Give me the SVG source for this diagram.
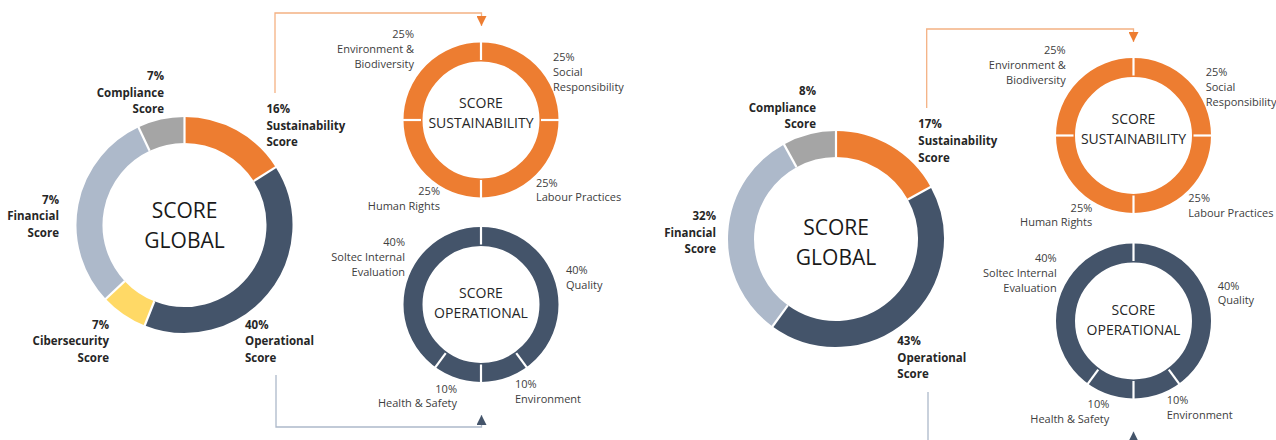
<svg xmlns="http://www.w3.org/2000/svg" width="1276" height="440" viewBox="0 0 1276 440">
<defs>
<style>
.bg{fill:#ffffff}
.seg{fill:none}
.big{stroke-width:26}
.small{stroke-width:19}
.or{stroke:#ED7D31}
.dk{stroke:#44546A}
.lb{stroke:#ADB9CA}
.gy{stroke:#A5A5A5}
.ye{stroke:#FFD966}
.sep{stroke:#ffffff;stroke-width:2.2}
.lbl{font-family:"Open Sans","Liberation Sans",sans-serif;font-weight:700;font-size:11.5px;fill:#262626}
.sub{font-family:"Open Sans","Liberation Sans",sans-serif;font-size:11px;fill:#404040}
.gt{font-family:"Open Sans","Liberation Sans",sans-serif;font-size:21px;fill:#1a1a1a;text-anchor:middle}
.st{font-family:"Open Sans","Liberation Sans",sans-serif;font-size:14px;fill:#262626;text-anchor:middle}
.r{text-anchor:end}
.conn-o{fill:none;stroke:#F4B183;stroke-width:1.3}
.conn-d{fill:none;stroke:#ADB9CA;stroke-width:1.3}
</style>
<marker id="arrO" markerUnits="userSpaceOnUse" markerWidth="10" markerHeight="10" viewBox="0 0 8 8" refX="8" refY="4" orient="auto">
<path d="M0,0 L8,4 L0,8 Z" fill="#ED7D31"/>
</marker>
<marker id="arrD" markerUnits="userSpaceOnUse" markerWidth="10" markerHeight="10" viewBox="0 0 8 8" refX="8" refY="4" orient="auto">
<path d="M0,0 L8,4 L0,8 Z" fill="#44546A"/>
</marker>
</defs>
<rect class="bg" x="0" y="0" width="1276" height="440"/>

<g id="connectors">
<path class="conn-o" d="M275,93 V13 H481.5 V26" marker-end="url(#arrO)"/>
<path class="conn-d" d="M276,375 V427 H481.5 V415" marker-end="url(#arrD)"/>
<path class="conn-o" d="M926.7,108 V29 H1133.5 V42" marker-end="url(#arrO)"/>
<path class="conn-d" d="M928,392 V452 H1133.5 V431.5" marker-end="url(#arrD)"/>
</g>

<!-- LEFT: SCORE GLOBAL -->
<g id="left-global">
<path class="seg big or" d="M184.5,130 A95,95 0 0 1 264.71,174.10"/>
<path class="seg big dk" d="M264.71,174.10 A95,95 0 0 1 149.53,313.33"/>
<path class="seg big ye" d="M149.53,313.33 A95,95 0 0 1 115.24,290.03"/>
<path class="seg big lb" d="M115.24,290.03 A95,95 0 0 1 144.05,139.04"/>
<path class="seg big gy" d="M144.05,139.04 A95,95 0 0 1 184.5,130"/>
<g class="sep">
<line x1="184.5" y1="115" x2="184.5" y2="143"/>
<line x1="184.5" y1="115" x2="184.5" y2="143" transform="rotate(57.6 184.5 225)"/>
<line x1="184.5" y1="115" x2="184.5" y2="143" transform="rotate(201.6 184.5 225)"/>
<line x1="184.5" y1="115" x2="184.5" y2="143" transform="rotate(226.8 184.5 225)"/>
<line x1="184.5" y1="115" x2="184.5" y2="143" transform="rotate(334.8 184.5 225)"/>
</g>
<text class="gt" x="184.5" y="218">SCORE</text>
<text class="gt" x="184.5" y="248">GLOBAL</text>
<text class="lbl r" x="164" y="80">7%</text>
<text class="lbl r" x="164" y="96.7">Compliance</text>
<text class="lbl r" x="164" y="113.3">Score</text>
<text class="lbl" x="266.5" y="113">16%</text>
<text class="lbl" x="266.5" y="129.7">Sustainability</text>
<text class="lbl" x="266.5" y="146.4">Score</text>
<text class="lbl r" x="59" y="203.5">7%</text>
<text class="lbl r" x="59" y="220.2">Financial</text>
<text class="lbl r" x="59" y="236.9">Score</text>
<text class="lbl r" x="109" y="328.5">7%</text>
<text class="lbl r" x="109" y="345.2">Cibersecurity</text>
<text class="lbl r" x="109" y="361.9">Score</text>
<text class="lbl" x="245" y="328.5">40%</text>
<text class="lbl" x="245" y="345.2">Operational</text>
<text class="lbl" x="245" y="361.9">Score</text>
</g>

<!-- LEFT: SCORE SUSTAINABILITY -->
<g id="left-sustainability">
<circle class="seg small or" cx="481" cy="120" r="68"/>
<g class="sep">
<line x1="481" y1="40" x2="481" y2="60"/>
<line x1="481" y1="40" x2="481" y2="60" transform="rotate(90 481 120)"/>
<line x1="481" y1="40" x2="481" y2="60" transform="rotate(180 481 120)"/>
<line x1="481" y1="40" x2="481" y2="60" transform="rotate(270 481 120)"/>
</g>
<text class="st" x="481" y="108.3">SCORE</text>
<text class="st" x="481" y="128.3">SUSTAINABILITY</text>
<text class="sub r" x="414" y="37.5">25%</text>
<text class="sub r" x="414" y="52.5">Environment &amp;</text>
<text class="sub r" x="414" y="67.5">Biodiversity</text>
<text class="sub" x="553" y="60.5">25%</text>
<text class="sub" x="553" y="75.5">Social</text>
<text class="sub" x="553" y="90.5">Responsibility</text>
<text class="sub" x="536" y="186.5">25%</text>
<text class="sub" x="536" y="201.3">Labour Practices</text>
<text class="sub r" x="440" y="195">25%</text>
<text class="sub r" x="440" y="209.5">Human Rights</text>
</g>

<!-- LEFT: SCORE OPERATIONAL -->
<g id="left-operational">
<circle class="seg small dk" cx="481" cy="304.5" r="68"/>
<g class="sep">
<line x1="481" y1="224.5" x2="481" y2="244.5"/>
<line x1="481" y1="224.5" x2="481" y2="244.5" transform="rotate(144 481 304.5)"/>
<line x1="481" y1="224.5" x2="481" y2="244.5" transform="rotate(180 481 304.5)"/>
<line x1="481" y1="224.5" x2="481" y2="244.5" transform="rotate(216 481 304.5)"/>
</g>
<text class="st" x="481" y="298.3">SCORE</text>
<text class="st" x="481" y="318.3">OPERATIONAL</text>
<text class="sub r" x="405" y="246">40%</text>
<text class="sub r" x="405" y="260.7">Soltec Internal</text>
<text class="sub r" x="405" y="276">Evaluation</text>
<text class="sub" x="566" y="274.3">40%</text>
<text class="sub" x="566" y="289">Quality</text>
<text class="sub" x="515" y="388.3">10%</text>
<text class="sub" x="515" y="402.7">Environment</text>
<text class="sub r" x="457" y="392.7">10%</text>
<text class="sub r" x="457" y="406.5">Health &amp; Safety</text>
</g>

<!-- RIGHT: SCORE GLOBAL -->
<g id="right-global">
<path class="seg big or" d="M836,144 A95,95 0 0 1 919.22,193.23"/>
<path class="seg big dk" d="M919.22,193.23 A95,95 0 0 1 780.16,315.86"/>
<path class="seg big lb" d="M780.16,315.86 A95,95 0 0 1 790.23,155.78"/>
<path class="seg big gy" d="M790.23,155.78 A95,95 0 0 1 836,144"/>
<g class="sep">
<line x1="836" y1="129" x2="836" y2="157"/>
<line x1="836" y1="129" x2="836" y2="157" transform="rotate(61.2 836 239)"/>
<line x1="836" y1="129" x2="836" y2="157" transform="rotate(216 836 239)"/>
<line x1="836" y1="129" x2="836" y2="157" transform="rotate(331.2 836 239)"/>
</g>
<text class="gt" x="836" y="235">SCORE</text>
<text class="gt" x="836" y="265">GLOBAL</text>
<text class="lbl r" x="816" y="95">8%</text>
<text class="lbl r" x="816" y="111.7">Compliance</text>
<text class="lbl r" x="816" y="128.4">Score</text>
<text class="lbl" x="918.3" y="128.3">17%</text>
<text class="lbl" x="918.3" y="145">Sustainability</text>
<text class="lbl" x="918.3" y="161.7">Score</text>
<text class="lbl r" x="716" y="220">32%</text>
<text class="lbl r" x="716" y="236.7">Financial</text>
<text class="lbl r" x="716" y="253.4">Score</text>
<text class="lbl" x="897.3" y="345">43%</text>
<text class="lbl" x="897.3" y="361.7">Operational</text>
<text class="lbl" x="897.3" y="378.4">Score</text>
</g>

<!-- RIGHT: SCORE SUSTAINABILITY -->
<g id="right-sustainability">
<circle class="seg small or" cx="1133.5" cy="135.5" r="68"/>
<g class="sep">
<line x1="1133.5" y1="55.5" x2="1133.5" y2="75.5"/>
<line x1="1133.5" y1="55.5" x2="1133.5" y2="75.5" transform="rotate(90 1133.5 135.5)"/>
<line x1="1133.5" y1="55.5" x2="1133.5" y2="75.5" transform="rotate(180 1133.5 135.5)"/>
<line x1="1133.5" y1="55.5" x2="1133.5" y2="75.5" transform="rotate(270 1133.5 135.5)"/>
</g>
<text class="st" x="1133.5" y="124.3">SCORE</text>
<text class="st" x="1133.5" y="144.3">SUSTAINABILITY</text>
<text class="sub r" x="1065.7" y="54">25%</text>
<text class="sub r" x="1065.7" y="69">Environment &amp;</text>
<text class="sub r" x="1065.7" y="84">Biodiversity</text>
<text class="sub" x="1205.7" y="76">25%</text>
<text class="sub" x="1205.7" y="91">Social</text>
<text class="sub" x="1205.7" y="106">Responsibility</text>
<text class="sub" x="1188.3" y="202.3">25%</text>
<text class="sub" x="1188.3" y="216.7">Labour Practices</text>
<text class="sub r" x="1092.3" y="212.3">25%</text>
<text class="sub r" x="1092.3" y="226.3">Human Rights</text>
</g>

<!-- RIGHT: SCORE OPERATIONAL -->
<g id="right-operational">
<circle class="seg small dk" cx="1133.5" cy="321" r="68"/>
<g class="sep">
<line x1="1133.5" y1="241" x2="1133.5" y2="261"/>
<line x1="1133.5" y1="241" x2="1133.5" y2="261" transform="rotate(144 1133.5 321)"/>
<line x1="1133.5" y1="241" x2="1133.5" y2="261" transform="rotate(180 1133.5 321)"/>
<line x1="1133.5" y1="241" x2="1133.5" y2="261" transform="rotate(216 1133.5 321)"/>
</g>
<text class="st" x="1133.5" y="315">SCORE</text>
<text class="st" x="1133.5" y="335">OPERATIONAL</text>
<text class="sub r" x="1056.7" y="261.7">40%</text>
<text class="sub r" x="1056.7" y="276.7">Soltec Internal</text>
<text class="sub r" x="1056.7" y="291.7">Evaluation</text>
<text class="sub" x="1217.7" y="290">40%</text>
<text class="sub" x="1217.7" y="304.3">Quality</text>
<text class="sub" x="1166.7" y="404.3">10%</text>
<text class="sub" x="1166.7" y="419">Environment</text>
<text class="sub r" x="1109.3" y="408.3">10%</text>
<text class="sub r" x="1109.3" y="423.3">Health &amp; Safety</text>
</g>
</svg>
